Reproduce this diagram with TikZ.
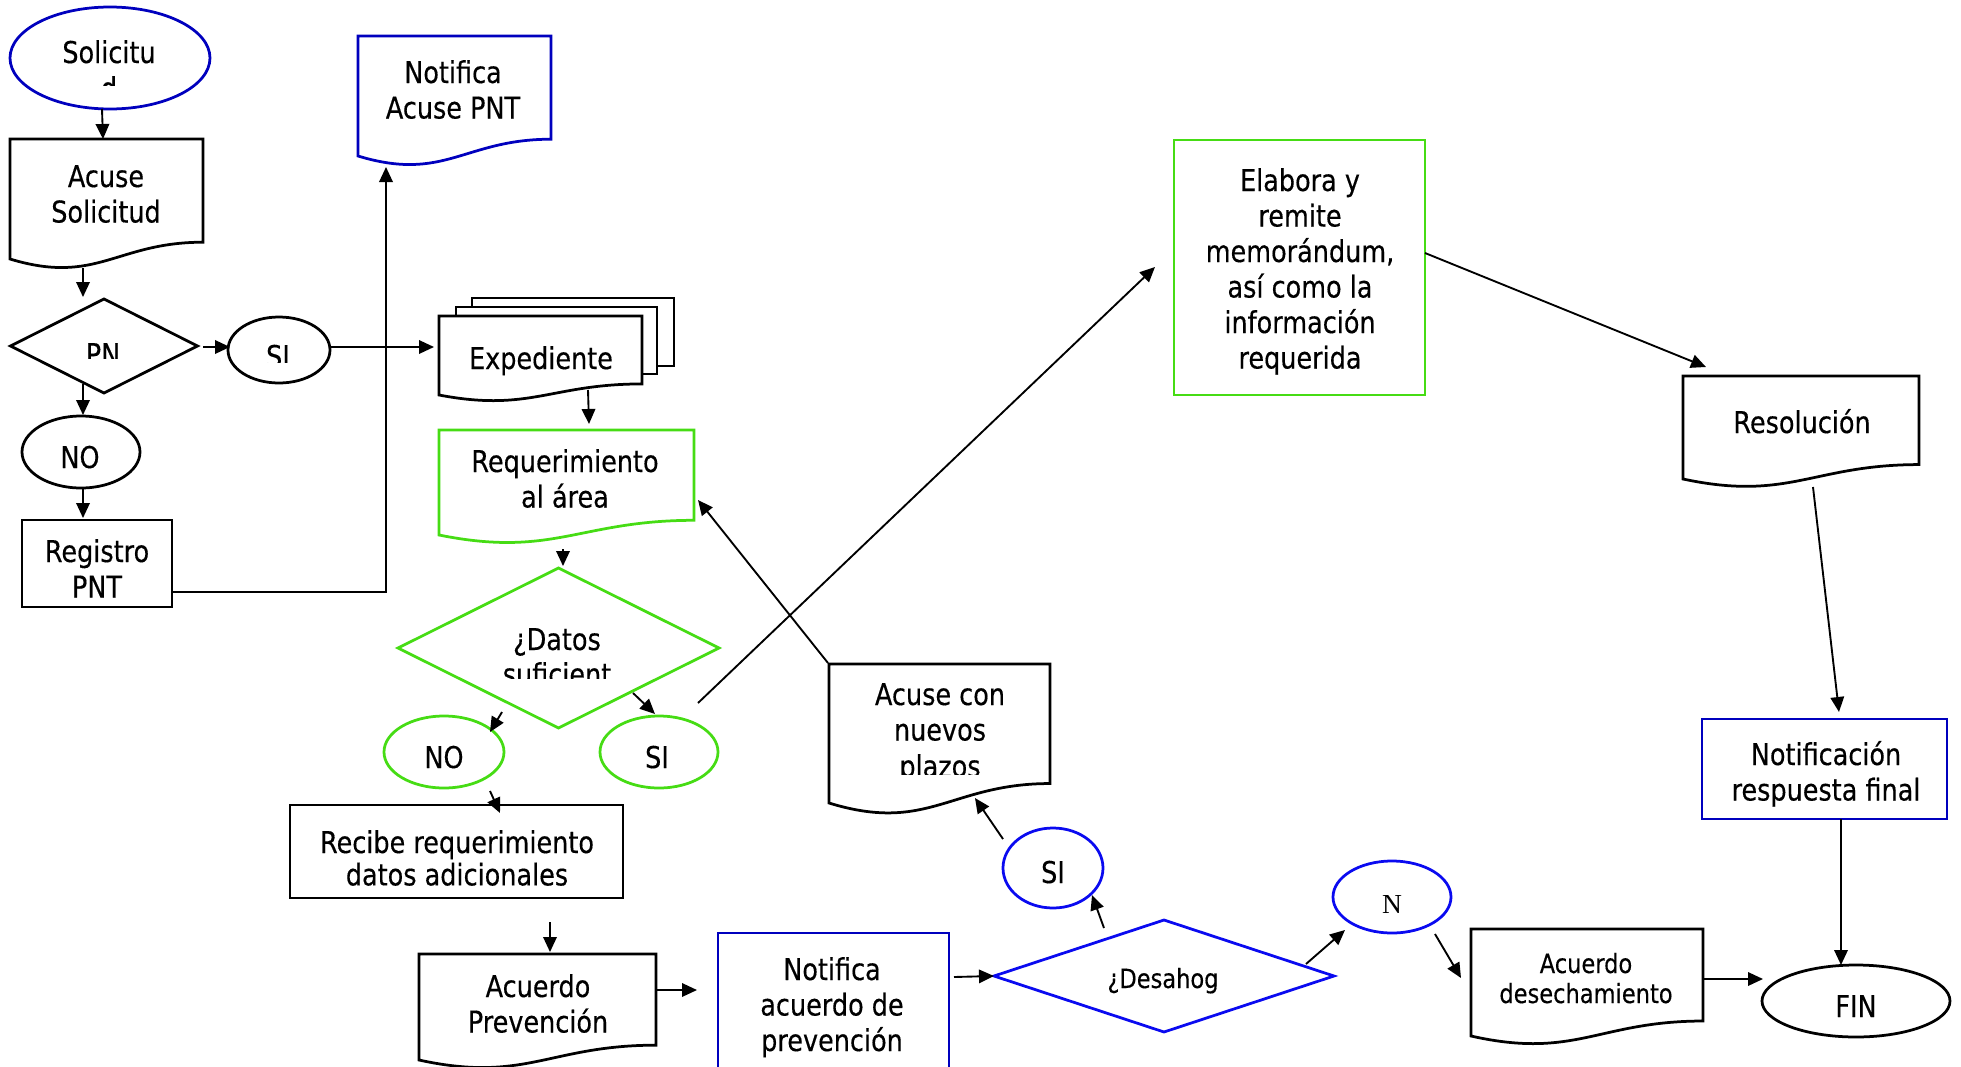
\documentclass[tikz,border=0pt]{standalone}
\usepackage{fontspec}
\setmainfont{DejaVu Sans}[FakeStretch=0.85,FakeBold=0.35]
\newfontfamily\serifN{Liberation Serif}
\usetikzlibrary{shapes.geometric,arrows.meta,calc}
\definecolor{dblue}{RGB}{0,0,190}
\definecolor{bblue}{RGB}{10,10,240}
\definecolor{fgreen}{RGB}{70,220,20}
\newcommand\ml[1]{\begin{tabular}[t]{@{}c@{}}#1\end{tabular}}
\newcommand\docwave[2]{%
  \draw[#2] let \p1=(#1.north west), \p2=(#1.south east) in
    (\p1) -- (\x2,\y1) -- (\x2,{\y2+0.14*(\y1-\y2)})
    .. controls ({\x1+0.55*(\x2-\x1)},{\y2+0.14*(\y1-\y2)}) and ({\x1+0.45*(\x2-\x1)},{\y2-0.22*(\y1-\y2)}) ..
    (\x1,\y2) -- cycle;}
\begin{document}
\begin{tikzpicture}[x=0.4pt,y=-0.4pt,
  every node/.style={inner sep=0pt, outer sep=0pt},
  txt/.style={anchor=base, font=\fontsize{12}{14.2}\selectfont},
  stxt/.style={anchor=base, font=\fontsize{10.6}{12}\selectfont},
  sz/.style 2 args={minimum width=#1*0.4pt, minimum height=#2*0.4pt},
  shp/.style={line width=1.1pt, fill=white},
  ell/.style={ellipse, draw, shp},
  dia/.style={diamond, draw, shp},
  rbox/.style={rectangle, draw, shp},
  hold/.style={rectangle, draw=none},
  arr/.style={line width=0.75pt, -{Triangle[length=6pt,width=5.4pt]}},
  ln/.style={line width=0.75pt}]
\useasboundingbox (0,0) rectangle (1961,1067);

% ---------- shapes ----------
\node[ell, draw=dblue, sz={200}{102}] (sol) at (110,58) {};
\node[hold, sz={193}{120}] (acs) at (106.5,199) {};
\docwave{acs}{shp,draw=black}
\node[dia, sz={187}{94}] (pn) at (104,346) {};
\node[ell, sz={102}{66}] (si1) at (279,350) {};
\node[ell, sz={118}{72}] (no1) at (81,452) {};
\node[rbox, sz={150}{87}] (reg) at (97,563.5) {};
\node[hold, sz={193}{120}] (nap) at (454.5,96) {};
\docwave{nap}{shp,draw=dblue}

\node[rbox, sz={202}{68}] (exp3) at (573,332) {};
\node[rbox, sz={201}{67}] (exp2) at (556.5,340.5) {};
\node[hold, sz={203}{79}] (exp) at (540.5,355.5) {};
\docwave{exp}{shp,draw=black}

\node[hold, sz={255}{105}] (req) at (566.5,482.5) {};
\docwave{req}{shp,draw=fgreen}
\node[dia, draw=fgreen, sz={321}{160}] (datos) at (558.5,648) {};
\node[ell, draw=fgreen, sz={120}{72}] (no2) at (444,752) {};
\node[ell, draw=fgreen, sz={118}{72}] (si2) at (659,752) {};
\node[rbox, sz={333}{93}] (rec) at (456.5,851.5) {};
\node[hold, sz={237}{106}] (acp) at (537.5,1007) {};
\docwave{acp}{shp,draw=black}
\node[rbox, draw=dblue, sz={231}{142}] (nacu) at (833.5,1004) {};
\node[dia, draw=bblue, sz={340}{112}] (des) at (1164,976) {};
\node[ell, draw=bblue, sz={100}{80}] (si3) at (1053,868) {};
\node[hold, sz={221}{139}] (nue) at (939.5,733.5) {};
\docwave{nue}{shp,draw=black}
\node[ell, draw=bblue, sz={118}{72}] (nn) at (1392,897) {};
\node[hold, sz={232}{107}] (dsc) at (1587,982.5) {};
\docwave{dsc}{shp,draw=black}
\node[ell, sz={188}{72}] (fin) at (1856,1001) {};
\node[rbox, draw=dblue, sz={245}{100}] (nrf) at (1824.5,769) {};
\node[hold, sz={236}{103}] (res) at (1801,427.5) {};
\docwave{res}{shp,draw=black}
\node[rbox, draw=fgreen, sz={251}{255}] (elab) at (1299.5,267.5) {};

% ---------- texts ----------
\node[txt] (solT) at (109,63) {Solicitu};
\begin{scope}
  \clip (80,70) rectangle (140,85);
  \node[txt] (solD) at (109,99) {d};
\end{scope}
\node[txt] (acsT) at (106,187) {\ml{Acuse\\Solicitud}};
\begin{scope}
  \clip (60,320) rectangle (150,358);
  \node[txt] (pnT) at (103,365) {PN};
\end{scope}
\begin{scope}
  \clip (240,320) rectangle (320,362);
  \node[txt] (si1T) at (278,367) {SI};
\end{scope}
\node[txt] (no1T) at (80,468) {NO};
\node[txt] (regT) at (97,562) {\ml{Registro\\PNT}};
\node[txt] (napT) at (453,83) {\ml{Notifica\\Acuse PNT}};
\node[txt] (expT) at (541,369) {Expediente};
\node[txt] (reqT) at (565,472) {\ml{Requerimiento\\al área}};
\node[txt] (datT) at (557,650) {¿Datos};
\begin{scope}
  \clip (480,655) rectangle (640,678);
  \node[txt] (datT2) at (557,685) {suficient};
\end{scope}
\node[txt] (no2T) at (444,768) {NO};
\node[txt] (si2T) at (657,768) {SI};
\node[txt, font=\fontsize{12}{12.8}\selectfont] (recT) at (457,853) {\ml{Recibe requerimiento\\datos adicionales}};
\node[txt] (acpT) at (538,997) {\ml{Acuerdo\\Prevención}};
\node[txt] (nacuT) at (832,980) {\ml{Notifica\\acuerdo de\\prevención}};
\node[stxt] (desT) at (1163,988) {¿Desahog};
\node[txt] (si3T) at (1053,883) {SI};
\node[txt] (nueT) at (940,705) {\ml{Acuse con\\nuevos}};
\begin{scope}
  \clip (860,750) rectangle (1020,774);
  \node[txt] (nueT3) at (940,777) {plazos};
\end{scope}
\node[anchor=base, font=\serifN\fontsize{11}{13}\selectfont] (nnT) at (1392,913) {N};
\node[stxt] (dscT) at (1586,973) {\ml{Acuerdo\\desechamiento}};
\node[txt] (finT) at (1856,1017) {FIN};
\node[txt] (nrfT) at (1826,765) {\ml{Notificación\\respuesta final}};
\node[txt] (resT) at (1802,433) {Resolución};
\node[txt] (elabT) at (1300,191) {\ml{Elabora y\\remite\\memorándum,\\así como la\\información\\requerida}};

% ---------- connectors ----------
\draw[arr] ($(sol.south)+(-8,0)$) -- ($(acs.north)+(-3.5,0)$);
\draw[arr] ($(acs.south)+(-23.5,9)$) -- ($(pn.north)+(-21,-2)$);
\draw[arr] ($(pn.south)+(-21,-9)$) -- ($(no1.north)+(2,-1)$);
\draw[arr] ($(no1.south)+(2,0)$) -- ($(reg.north)+(-14,-2)$);
\draw[arr] ($(reg.south east)+(0,-15)$) -| ($(nap.south west)+(28,11)$);
\draw[arr] ($(pn.east)+(5.5,1)$) -- ($(si1.west)+(2,-3)$);
\draw[arr] ($(si1.east)+(0,-3)$) -- ($(exp.west)+(-5,-8.5)$);
\draw[arr] ($(exp.south)+(47.5,-5)$) -- ($(req.north)+(22.5,-6)$);
\draw[arr] ($(req.south)+(-3.5,14)$) -- ($(datos.north)+(4.5,-2)$);
\draw[arr] ($(datos.south)+(-56.5,-16)$) -- ($(no2.north)+(46,16)$);
\draw[arr] ($(datos.south)+(74.5,-35)$) -- ($(si2.north)+(-4,-2)$);
\draw[arr] ($(si2.north)+(39,-13)$) -- ($(elab.west)+(-19,-0.5)$);
\draw[arr] ($(nue.north west)+(-1,-1)$) -- ($(req.east)+(4,17.5)$);
\draw[arr] ($(no2.south)+(46,3)$) -- ($(rec.north)+(43.5,8)$);
\draw[arr] ($(rec.south)+(93.5,24)$) -- ($(acp.north)+(12.5,-2)$);
\draw[arr] ($(acp.east)+(0,-17)$) -- ($(nacu.west)+(-21,-14)$);
\draw[arr] ($(nacu.east)+(5,-27)$) -- (des.west);
\draw[arr] ($(des.north)+(-60,8)$) -- ($(si3.south)+(39,-13)$);
\draw[arr] ($(si3.west)+(0,-29)$) -- ($(nue.south)+(35.5,-5)$);
\draw[arr] ($(des.east)+(-28,-12)$) -- ($(nn.west)+(12,33)$);
\draw[arr] ($(nn.south)+(43,1)$) -- ($(dsc.west)+(-10,-4.5)$);
\draw[arr] ($(dsc.east)+(0,-3.5)$) -- ($(fin.west)+(1,-22)$);
\draw[arr] ($(nrf.south)+(16.5,0)$) -- ($(fin.north)+(-15,0)$);
\draw[arr] ($(elab.east)+(0,-14.5)$) -- ($(res.north)+(-95,-9)$);
\draw[arr] ($(res.south)+(12,8)$) -- ($(nrf.north)+(14.5,-7)$);
\end{tikzpicture}
\end{document}
